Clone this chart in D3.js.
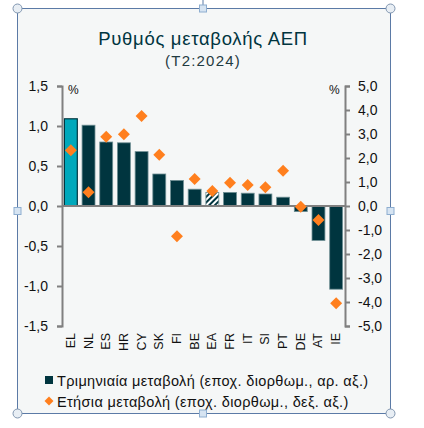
<!DOCTYPE html>
<html><head><meta charset="utf-8">
<script src="https://cdn.jsdelivr.net/npm/d3@7"></script>
<style>body{margin:0;background:#fff;font-family:"Liberation Sans",Arial,sans-serif}</style>
</head><body><svg id="c" width="424" height="428"></svg>
<script>
const categories = ["EL","NL","ES","HR","CY","SK","FI","BE","EA","FR","IT","SI","PT","DE","AT","IE"];
const quarterly = [1.09,1.01,0.80,0.79,0.68,0.40,0.32,0.21,0.17,0.17,0.16,0.15,0.11,-0.07,-0.43,-1.04];
const annual = [2.32,0.57,2.89,2.99,3.75,2.14,-1.26,1.13,0.63,0.97,0.88,0.78,1.47,-0.03,-0.58,-4.05];
const leftTicks = [1.5,1.0,0.5,0.0,-0.5,-1.0,-1.5];
const rightTicks = [5,4,3,2,1,0,-1,-2,-3,-4,-5];
const title = "Ρυθμός μεταβολής ΑΕΠ";
const subtitle = "(T2:2024)";
const legendLabels = ["Τριμηνιαία μεταβολή (εποχ. διορθωμ., αρ. αξ.)","Ετήσια μεταβολή (εποχ. διορθωμ., δεξ. αξ.)"];

const svg = d3.select("#c");
const fmt = v => d3.format(".1f")(v).replace(".", ",").replace("−","-");
const dark = "#00353f", orange = "#ff7f1e", axisCol = "#808080";

// frame
const F = {x0:17.5, y0:8.5, x1:390.5, y1:413.5};
svg.append("rect").attr("x",F.x0).attr("y",F.y0).attr("width",F.x1-F.x0).attr("height",F.y1-F.y0)
  .attr("fill","#f5f7f7").attr("stroke","#5b7aa6").attr("stroke-width",1);

const defs = svg.append("defs");
const pat = defs.append("pattern").attr("id","hatch").attr("patternUnits","userSpaceOnUse")
  .attr("width",4).attr("height",4).attr("patternTransform","rotate(45)");
pat.append("rect").attr("width",4).attr("height",4).attr("fill","#ffffff");
pat.append("rect").attr("width",2).attr("height",4).attr("fill",dark);

const x = d3.scaleBand().domain(categories).range([62,345]).paddingInner(0.27).paddingOuter(0.135);
const yL = d3.scaleLinear().domain([-1.5,1.5]).range([326,86]);
const yR = d3.scaleLinear().domain([-5,5]).range([326,86]);

// title
svg.append("text").attr("x",203).attr("y",45).attr("text-anchor","middle")
  .attr("font-size",18.5).attr("fill","#00353f").attr("letter-spacing",0.7).text(title);
svg.append("text").attr("x",203).attr("y",66).attr("text-anchor","middle")
  .attr("font-size",15).attr("fill","#1f3a40").attr("letter-spacing",1.2).text(subtitle);

// bars
svg.append("g").selectAll("rect").data(categories).join("rect")
  .attr("x",d=>x(d)).attr("width",x.bandwidth())
  .attr("y",(d,i)=>yL(Math.max(0,quarterly[i])))
  .attr("height",(d,i)=>Math.abs(yL(quarterly[i])-yL(0)))
  .attr("fill",(d,i)=> d==="EL" ? "#00a8bb" : d==="EA" ? "url(#hatch)" : dark)
  .attr("stroke",(d,i)=> d==="EL" ? "#00353f" : "#6f8f94")
  .attr("stroke-width",(d)=> d==="EL"?1.2:0.8);

// axes
const gL = svg.append("g").attr("transform","translate(62,0)")
  .call(d3.axisLeft(yL).tickValues(leftTicks).tickFormat(fmt).tickSize(5).tickPadding(9));
const gR = svg.append("g").attr("transform","translate(345,0)")
  .call(d3.axisRight(yR).tickValues(rightTicks).tickFormat(fmt).tickSize(5).tickPadding(8));
[gL,gR].forEach(g=>{
  g.select(".domain").attr("stroke",axisCol).attr("stroke-width",2);
  g.selectAll(".tick line").attr("stroke",axisCol).attr("stroke-width",2);
  g.selectAll(".tick text").attr("font-size",14).attr("fill","#111").attr("font-family","Liberation Sans, Arial, sans-serif");
});
// zero line
svg.append("line").attr("x1",62).attr("x2",345).attr("y1",yL(0)).attr("y2",yL(0))
  .attr("stroke",axisCol).attr("stroke-width",2);

// diamonds
svg.append("g").selectAll("path").data(categories).join("path")
  .attr("d", d3.symbol().type(d3.symbolSquare).size(72))
  .attr("transform",(d,i)=>`translate(${x(d)+x.bandwidth()/2},${yR(annual[i])}) rotate(45)`)
  .attr("fill",orange);

// % labels
svg.append("text").attr("x",68).attr("y",94).attr("font-size",12).attr("fill","#111").text("%");
svg.append("text").attr("x",329).attr("y",94).attr("font-size",12).attr("fill","#111").text("%");

// x labels
svg.append("g").selectAll("text").data(categories).join("text")
  .attr("transform",d=>`translate(${x(d)+x.bandwidth()/2+4},333) rotate(-90)`)
  .attr("text-anchor","end").attr("font-size",12.5).attr("fill","#111").text(d=>d);

// legend
svg.append("rect").attr("x",45).attr("y",376).attr("width",8).attr("height",8).attr("fill",dark);
svg.append("text").attr("x",57).attr("y",386).attr("font-size",14.5).attr("letter-spacing",0.35).attr("fill","#111").text(legendLabels[0]);
svg.append("path").attr("d",d3.symbol().type(d3.symbolSquare).size(40))
  .attr("transform","translate(49,401) rotate(45)").attr("fill",orange);
svg.append("text").attr("x",57).attr("y",407).attr("font-size",14.5).attr("letter-spacing",0.35).attr("fill","#111").text(legendLabels[1]);

// selection handles
svg.append("line").attr("x1",203).attr("x2",203).attr("y1",0).attr("y2",8).attr("stroke","#5b7aa6");
[[F.x0,F.y0],[F.x1,F.y0],[F.x0,F.y1],[F.x1,F.y1]].forEach(([a,b])=>{
  svg.append("circle").attr("cx",a).attr("cy",b).attr("r",4.5).attr("fill","#e8eef4").attr("stroke","#8196b0");
});
[[203,F.y0],[F.x0,211],[F.x1,211],[203,F.y1]].forEach(([a,b])=>{
  svg.append("rect").attr("x",a-3.5).attr("y",b-3.5).attr("width",7).attr("height",7).attr("fill","#d6e4f2").attr("stroke","#8eaed0");
});
</script></body></html>
